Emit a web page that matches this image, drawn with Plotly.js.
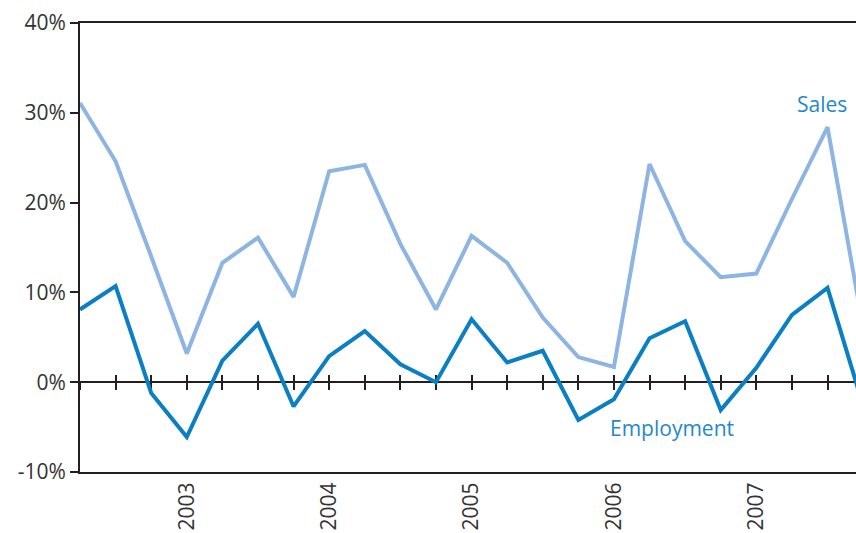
<!DOCTYPE html>
<html>
<head>
<meta charset="utf-8">
<script src="https://cdn.plot.ly/plotly-3.0.1.min.js"></script>
<style>
html,body{margin:0;padding:0;background:#fff;}
#chart{width:856px;height:533px;}
</style>
</head>
<body>
<div id="chart"></div>
<script>
// Quarterly growth rates (%), quarter index 0..22
const quarterIndex = [0,1,2,3,4,5,6,7,8,9,10,11,12,13,14,15,16,17,18,19,20,21,22];
const sales = [31.1,24.6,14.0,3.2,13.3,16.1,9.5,23.5,24.2,15.4,8.1,16.3,13.3,7.2,2.8,1.7,24.3,15.7,11.7,12.1,20.4,28.4,6.1];
const employment = [8.1,10.7,-1.2,-6.1,2.4,6.5,-2.7,2.9,5.7,2.0,0.0,7.0,2.2,3.5,-4.2,-1.9,4.9,6.8,-3.1,1.6,7.5,10.5,-2.6];
const yearTickPositions = [3,7,11,15,19];
const yearLabels = ['2003','2004','2005','2006','2007'];
const yTicks = [-10,0,10,20,30,40];

const axisColor = '#231f20';
const textColor = '#333333';
const fontFamily = '"Open Sans", "Noto Sans", sans-serif';

const traces = [
  {x: quarterIndex, y: sales, type: 'scatter', mode: 'lines', name: 'Sales',
   line: {color: '#8db4e2', width: 4}, xaxis: 'x', yaxis: 'y', hoverinfo: 'skip'},
  {x: quarterIndex, y: employment, type: 'scatter', mode: 'lines', name: 'Employment',
   line: {color: '#0a7fc4', width: 4}, xaxis: 'x', yaxis: 'y', hoverinfo: 'skip'},
  {x: [], y: [], type: 'scatter', mode: 'lines', xaxis: 'x2', yaxis: 'y', showlegend: false, hoverinfo: 'skip'},
  {x: [], y: [], type: 'scatter', mode: 'lines', xaxis: 'x3', yaxis: 'y', showlegend: false, hoverinfo: 'skip'}
];

const xRange = [0, 21.8];
const yRange = [-10, 40];
const zeroPos = (0 - yRange[0]) / (yRange[1] - yRange[0]);

const layout = {
  width: 856, height: 533,
  margin: {l: 80, r: 0, t: 23, b: 61, pad: 0},
  paper_bgcolor: '#ffffff', plot_bgcolor: '#ffffff',
  showlegend: false,
  font: {family: fontFamily, size: 21, color: textColor},
  xaxis: {
    range: xRange, showgrid: false, zeroline: false,
    showline: true, mirror: true, linecolor: axisColor, linewidth: 2,
    ticks: '', tickmode: 'array', tickvals: yearTickPositions, ticktext: yearLabels,
    tickangle: -90, tickfont: {size: 21, color: textColor, family: fontFamily},
    fixedrange: true
  },
  xaxis2: {
    overlaying: 'x', anchor: 'free', position: zeroPos, range: xRange,
    showgrid: false, zeroline: false, showline: true, linecolor: axisColor, linewidth: 2,
    ticks: 'outside', ticklen: 7, tickwidth: 2, tickcolor: axisColor,
    tickmode: 'linear', tick0: 0, dtick: 1, showticklabels: false, layer: 'below traces'
  },
  xaxis3: {
    overlaying: 'x', anchor: 'free', position: zeroPos, range: xRange,
    showgrid: false, zeroline: false, showline: false,
    ticks: 'inside', ticklen: 7, tickwidth: 2, tickcolor: axisColor,
    tickmode: 'linear', tick0: 0, dtick: 1, showticklabels: false, layer: 'below traces'
  },
  yaxis: {
    range: yRange, showgrid: false, zeroline: false,
    showline: true, linecolor: axisColor, linewidth: 2,
    ticks: 'outside', ticklen: 8, tickwidth: 2, tickcolor: axisColor,
    tickmode: 'array', tickvals: yTicks, ticktext: yTicks.map(v => v + '%'),
    tickfont: {size: 21, color: textColor, family: fontFamily},
    fixedrange: true
  },
  annotations: [
    {x: 20.84, y: 31.0, xref: 'x', yref: 'y', text: 'Sales', showarrow: false,
     font: {size: 21, color: '#1f88cf', family: fontFamily}},
    {x: 16.63, y: -5.1, xref: 'x', yref: 'y', text: 'Employment', showarrow: false,
     font: {size: 21, color: '#1f88cf', family: fontFamily}}
  ]
};

Plotly.newPlot('chart', traces, layout, {staticPlot: true, displayModeBar: false});
</script>
</body>
</html>
